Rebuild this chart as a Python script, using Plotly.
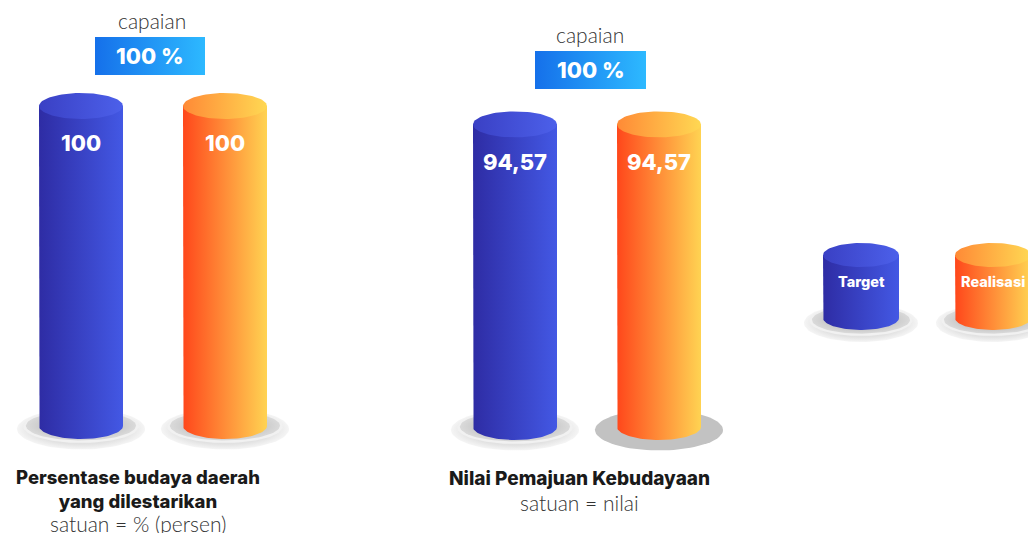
import numpy as np
import plotly.graph_objects as go

# ---------------- data ----------------
indicators = ["Persentase budaya daerah<br>yang dilestarikan", "Nilai Pemajuan Kebudayaan"]
units = ["satuan = % (persen)", "satuan = nilai"]
target = [100, 94.57]
realisasi = [100, 94.57]
target_labels = ["100", "94,57"]
realisasi_labels = ["100", "94,57"]
capaian = ["100 %", "100 %"]
capaian_word = "capaian"
series_names = ["Target", "Realisasi"]

# ---------------- layout / style ----------------
W, H = 1036, 533       # screen size
OFF = 8                # page body margin
FW, FH = W - OFF, H - OFF
PX = 3.2               # pixels per value unit
base_px = [426, 427]   # screen row of value 0 for each group
group_cx = [[81, 225], [515, 659]]
RX = 42
RY = 13

BLUE_BODY = [[0, '#2e2ca4'], [1, '#4358e4']]
BLUE_TOP = [[0, '#3a40c4'], [1, '#4c60ea']]
ORG_BODY = [[0, '#ff471b'], [0.5, '#ff8d38'], [1, '#ffd352']]
ORG_TOP = [[0, '#ff8a36'], [1, '#ffd853']]
BOX = [[0, '#1570ea'], [1, '#2db9ff']]
PLATE_OUT = [[0, '#d4d4d4'], [0.75, '#e2e2e2'], [1, '#f5f5f5']]
PLATE_IN = [[0, '#b9b9b9'], [0.7, '#cacaca'], [1, '#dadada']]

BOLD = "Inter"
LIGHT = "Lato"

fig = go.Figure()


def ellipse(cx, cy, rx, ry, n=90):
    t = np.linspace(0, 2 * np.pi, n)
    return cx + rx * np.cos(t), cy + ry * np.sin(t)


def poly(x, y, axis, grad=None, color=None):
    kw = dict(x=list(x), y=list(y), mode='lines', fill='toself', line=dict(width=0),
              hoverinfo='skip', showlegend=False, yaxis=axis)
    if grad is not None:
        kw['fillgradient'] = dict(type=grad[0], colorscale=grad[1])
        kw['fillcolor'] = 'rgba(0,0,0,0)'
    else:
        kw['fillcolor'] = color
    fig.add_trace(go.Scatter(**kw))


def plate(cx, cy, rx, ry, axis, k):
    # ry given in axis units; rx in pixels
    x, y = ellipse(cx, cy, rx, ry)
    poly(x, y, axis, grad=('radial', PLATE_OUT))
    x, y = ellipse(cx, cy + ry * 0.12, rx * 0.9, ry * 0.8)
    poly(x, y, axis, color='#f1f1f1')
    x, y = ellipse(cx, cy + ry * 0.16, rx * 0.86, ry * 0.72)
    poly(x, y, axis, grad=('radial', PLATE_IN))


def cylinder(cx, bottom, top, axis, rx, ry, body, topc):
    t = np.linspace(np.pi, 2 * np.pi, 60)
    xs = [cx - rx] + list(cx + rx * np.cos(t)) + [cx + rx, cx - rx]
    ys = [top] + list(bottom + ry * np.sin(t)) + [top, top]
    poly(xs, ys, axis, grad=('horizontal', body))
    ex, ey = ellipse(cx, top, rx, ry)
    poly(ex, ey, axis, grad=('horizontal', topc))


def bold_font(size, color):
    return dict(family=BOLD, size=size, color=color, weight=800)


# data cylinders
for g in range(2):
    axis = 'y' if g == 0 else 'y2'
    ry_u = RY / PX
    for k, (vals, body, topc, labels) in enumerate([
            (target, BLUE_BODY, BLUE_TOP, target_labels),
            (realisasi, ORG_BODY, ORG_TOP, realisasi_labels)]):
        cx = group_cx[g][k]
        if g == 1 and k == 1:
            px_, py_ = ellipse(cx, -3 / PX, 64, 20.5 / PX)
            poly(px_, py_, axis, color='#c2c2c2')
        else:
            plate(cx, -3 / PX, 64, 20.5 / PX, axis, k)
        cylinder(cx, 0, vals[g], axis, RX, ry_u, body, topc)
        fig.add_annotation(x=cx, y=vals[g] - 11.6, xref='x', yref=axis, text=labels[g],
                           showarrow=False, font=bold_font(22, 'white'))

# capaian boxes (pixel axis y3: value = H - screen row)
box_specs = [(95, 205, 37, 75, 152, 20), (535, 646, 51, 89, 590, 34)]
for g, (x0, x1, y0, y1, tx, ty) in enumerate(box_specs):
    poly([x0, x1, x1, x0, x0], [H - y0, H - y0, H - y1, H - y1, H - y0], 'y3', grad=('horizontal', BOX))
    fig.add_annotation(x=(x0 + x1) / 2, y=H - (y0 + y1) / 2, xref='x', yref='y3',
                       text=capaian[g], showarrow=False, font=bold_font(22, 'white'))
    fig.add_annotation(x=tx, y=H - ty, xref='x', yref='y3', text=capaian_word, showarrow=False,
                       font=dict(family=LIGHT, size=21, color='#333333', weight=300))

# titles
title_specs = [(138, 489, 523, 18.5), (579, 478, 502, 19)]
for g, (tx, ty, uy, fs) in enumerate(title_specs):
    fig.add_annotation(x=tx, y=H - ty, xref='x', yref='y3', text=indicators[g],
                       showarrow=False, font=bold_font(fs, '#1a1a1a'))
    fig.add_annotation(x=tx, y=H - uy, xref='x', yref='y3', text=units[g], showarrow=False,
                       font=dict(family=LIGHT, size=21, color='#333333', weight=300))

# legend cylinders (pixel axis)
leg_cx = [861, 993]
for k, (body, topc) in enumerate([(BLUE_BODY, BLUE_TOP), (ORG_BODY, ORG_TOP)]):
    cx = leg_cx[k]
    plate(cx, H - 323, 57, 19, 'y3', k)
    cylinder(cx, H - 318, H - 255, 'y3', 38, 12, body, topc)
    fig.add_annotation(x=cx, y=H - 281, xref='x', yref='y3', text=series_names[k],
                       showarrow=False, font=bold_font(14.5, 'white'))

ax_off = dict(visible=False, showgrid=False, zeroline=False, fixedrange=True)
fig.update_layout(
    width=FW, height=FH, margin=dict(l=0, r=0, t=0, b=0),
    paper_bgcolor='white', plot_bgcolor='white', showlegend=False,
    xaxis=dict(range=[OFF, W], domain=[0, 1], **ax_off),
    yaxis=dict(range=[(base_px[0] - H) / PX, (base_px[0] - OFF) / PX], domain=[0, 1], **ax_off),
    yaxis2=dict(range=[(base_px[1] - H) / PX, (base_px[1] - OFF) / PX], overlaying='y', anchor='x', **ax_off),
    yaxis3=dict(range=[0, H - OFF], overlaying='y', anchor='x', **ax_off),
)

fig.write_html("out.html")
